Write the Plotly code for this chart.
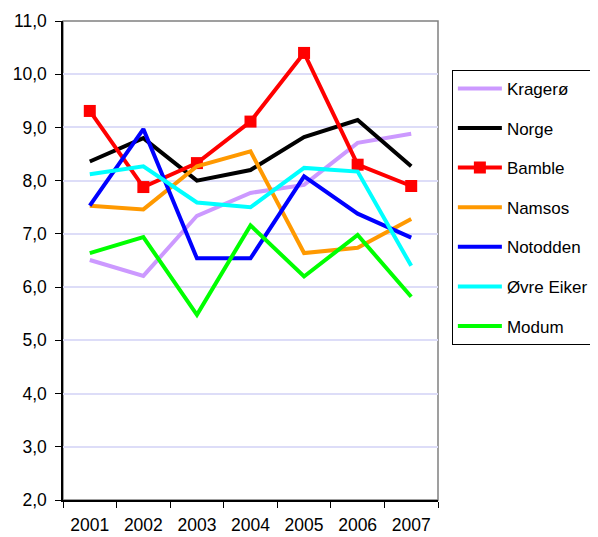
import plotly.graph_objects as go

years = ["2001", "2002", "2003", "2004", "2005", "2006", "2007"]
kragero = [6.51, 6.21, 7.34, 7.77, 7.92, 8.71, 8.88]
norge = [8.36, 8.80, 8.00, 8.20, 8.82, 9.14, 8.27]
bamble = [9.31, 7.88, 8.33, 9.11, 10.40, 8.30, 7.90]
namsos = [7.53, 7.46, 8.27, 8.55, 6.64, 6.74, 7.28]
notodden = [7.53, 8.97, 6.54, 6.54, 8.08, 7.38, 6.93]
ovre_eiker = [8.12, 8.27, 7.59, 7.50, 8.24, 8.17, 6.40]
modum = [6.64, 6.94, 5.48, 7.16, 6.20, 6.98, 5.82]

series = [
    ("Kragerø", kragero, "#cc99ff", False),
    ("Norge", norge, "#000000", False),
    ("Bamble", bamble, "#ff0000", True),
    ("Namsos", namsos, "#ff9900", False),
    ("Notodden", notodden, "#0000ff", False),
    ("Øvre Eiker", ovre_eiker, "#00ffff", False),
    ("Modum", modum, "#00ff00", False),
]

fig = go.Figure()
for i, (name, vals, color, marker) in enumerate(series):
    fig.add_trace(go.Scatter(
        x=years, y=vals, name=name,
        mode="lines+markers" if marker else "lines",
        line=dict(color=color, width=4),
        marker=dict(symbol="square", size=12, color=color) if marker else None,
        legendgroup=f"g{i}",
    ))

font = "Liberation Sans, Arial, sans-serif"
# page body has an 8px default margin, so the figure is 8px smaller and margins shifted
fig.update_layout(
    width=590, height=529,
    margin=dict(l=55, r=160, t=13, b=37, autoexpand=False),
    paper_bgcolor="white", plot_bgcolor="white",
    separators=",.",
    font=dict(family=font, size=17.5, color="black"),
    showlegend=True,
    legend=dict(
        x=1.037, y=0.898, xanchor="left", yanchor="top",
        bordercolor="black", borderwidth=1,
        font=dict(family=font, size=17, color="black"),
        traceorder="grouped", tracegroupgap=14.5,
        itemwidth=44,
    ),
    shapes=[dict(type="rect", xref="paper", yref="paper", x0=0, x1=1, y0=0, y1=1,
                 line=dict(color="#808080", width=1.5), layer="below")],
)
fig.update_xaxes(
    type="category", range=[-0.5, 6.5],
    showline=True, linecolor="black", linewidth=1.5,
    ticks="outside", tickson="boundaries", ticklen=6, tickcolor="black",
    showgrid=False, zeroline=False,
    ticklabelstandoff=8,
    tickfont=dict(size=17.5),
)
fig.update_yaxes(
    range=[2, 11], dtick=1, tickformat=".1f",
    showline=True, linecolor="black", linewidth=1.5,
    ticks="outside", ticklen=6, tickcolor="black",
    showgrid=True, gridcolor="#ddddf8", gridwidth=1.5,
    zeroline=False,
    ticklabelstandoff=5,
    tickfont=dict(size=17.5),
)

fig.write_html("out.html")
